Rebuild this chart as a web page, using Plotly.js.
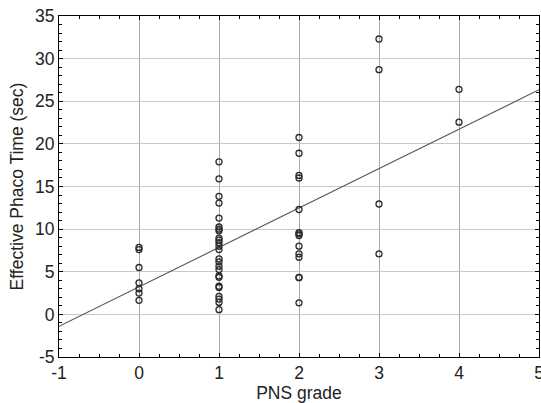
<!DOCTYPE html>
<html>
<head>
<meta charset="utf-8">
<script src="https://cdn.plot.ly/plotly-3.0.1.min.js"></script>
<style>html,body{margin:0;padding:0;background:#fff;}#chart{width:541px;height:403px;}</style>
</head>
<body>
<div id="chart"></div>
<script>
// PNS grade 0
const grade0 = [7.85, 7.6, 5.5, 3.7, 3.0, 2.5, 1.65];
// PNS grade 1
const grade1 = [17.9, 15.9, 13.85, 13.05, 11.3, 10.25, 10.0, 9.8, 8.95, 8.7, 8.4, 8.0, 7.6,
                6.5, 6.15, 5.65, 5.25, 4.5, 4.35, 3.3, 3.15, 2.1, 1.8, 1.4, 0.55];
// PNS grade 2
const grade2 = [20.75, 18.9, 16.3, 16.0, 12.3, 9.6, 9.45, 9.25, 8.0, 7.1, 6.7, 4.35, 4.3, 1.35];
// PNS grade 3
const grade3 = [32.3, 28.7, 12.95, 7.1];
// PNS grade 4
const grade4 = [26.4, 22.55];
const gradeLevels = [0, 1, 2, 3, 4];
// regression line end points
const fitX = [-1, 5];
const fitY = [-1.4, 26.35];
// tick labels
const xTickVals = [-1, 0, 1, 2, 3, 4, 5];
const xTickText = ['-1', '0', '1', '2', '3', '4', '5'];
const yTickVals = [-5, 0, 5, 10, 15, 20, 25, 30, 35];
const yTickText = ['-5', '0', '5', '10', '15', '20', '25', '30', '35'];

const groups = [grade0, grade1, grade2, grade3, grade4];
const xs = [], ys = [];
groups.forEach((g, i) => g.forEach(v => { xs.push(gradeLevels[i]); ys.push(v); }));

const traces = [
  {x: fitX, y: fitY, type: 'scatter', mode: 'lines',
   line: {color: '#555555', width: 1.1}, hoverinfo: 'skip'},
  {x: xs, y: ys, type: 'scatter', mode: 'markers',
   marker: {symbol: 'circle-open', size: 6, color: '#2a2a2a', line: {width: 1.3, color: '#2a2a2a'}}}
];

const font = {family: 'Liberation Sans, Arial, sans-serif', size: 17.5, color: '#222'};
const layout = {
  width: 541, height: 403,
  margin: {l: 59, r: 2, t: 16, b: 46},
  paper_bgcolor: '#fff', plot_bgcolor: '#fff',
  showlegend: false,
  font: font,
  xaxis: {
    range: [-1, 5], tickmode: 'array', tickvals: xTickVals, ticktext: xTickText,
    automargin: false, ticklabeloverflow: 'allow',
    showgrid: true, gridcolor: '#a8a8a8', gridwidth: 1,
    zeroline: false,
    showline: true, linecolor: '#000', linewidth: 1, mirror: 'ticks',
    ticks: 'inside', ticklen: 4, tickcolor: '#000',
    minor: {dtick: 0.25, tick0: -1, ticks: 'inside', ticklen: 3, tickcolor: '#000', showgrid: false},
    tickfont: font,
    title: {text: 'PNS grade', font: font, standoff: 6}
  },
  yaxis: {
    range: [-5, 35], tickmode: 'array', tickvals: yTickVals, ticktext: yTickText,
    automargin: false, ticklabeloverflow: 'allow',
    showgrid: true, gridcolor: '#c8c8c8', gridwidth: 1,
    zeroline: false,
    showline: true, linecolor: '#000', linewidth: 1, mirror: 'ticks',
    ticks: 'inside', ticklen: 4, tickcolor: '#000',
    minor: {dtick: 1, tick0: -5, ticks: 'inside', ticklen: 3, tickcolor: '#000', showgrid: false},
    tickfont: font,
    title: {text: 'Effective Phaco Time (sec)', font: font, standoff: 6}
  }
};

Plotly.newPlot('chart', traces, layout, {displayModeBar: false, staticPlot: true});
</script>
</body>
</html>
